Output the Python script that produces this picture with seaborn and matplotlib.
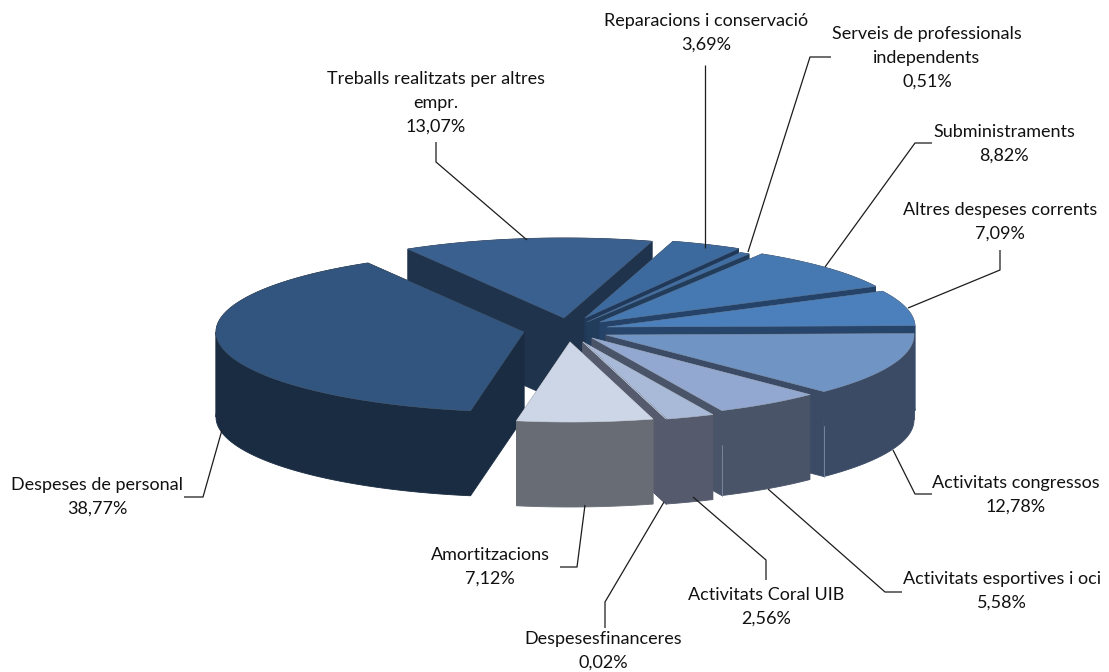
import numpy as np
import matplotlib
matplotlib.use("Agg")
import matplotlib.pyplot as plt
import seaborn as sns

# ---- data ----
categories = ["Despeses de personal", "Treballs realitzats per altres\nempr.",
              "Reparacions i conservació", "Serveis de professionals\nindependents",
              "Subministraments", "Altres despeses corrents", "Activitats congressos",
              "Activitats esportives i oci", "Activitats Coral UIB",
              "Despesesfinanceres", "Amortitzacions"]
values = [38.77, 13.07, 3.69, 0.51, 8.82, 7.09, 12.78, 5.58, 2.56, 0.02, 7.12]

# ---- styles / layout ----
top_colors = ["#31557F", "#3A6090", "#3D6A9E", "#3F6EA5", "#4679B2", "#4C80BC",
              "#7094C3", "#93A8D0", "#A9BAD8", "#A9BAD8", "#CCD6E7"]
side_colors = ["#1A2C42", "#1F334D", "#20395A", "#223C5C", "#254268", "#27456B",
               "#3B4B66", "#4A5468", "#555B6D", "#555B6D", "#686C75"]
apex = [(524, 332), (564, 318), (585, 318), (587, 322), (600, 322), (607, 327),
        (606, 335), (592, 338), (583, 342), (583, 342), (570, 342)]
label_pos = [(97, 497), (436, 103), (706, 33), (927, 58), (1004, 144), (1000, 222),
             (1016, 495), (1002, 591), (766, 607), (603, 651), (490, 567)]
leaders = [[(184, 497), (203, 497), (222, 430)],
           [(436, 142), (436, 162), (527, 240)],
           [(705, 65), (705, 248)],
           [(831, 57), (810, 57), (748, 252)],
           [(932, 143), (915, 143), (825, 267)],
           [(1000, 250), (1000, 270), (908, 308)],
           [(932, 494), (915, 494), (893, 450)],
           [(902, 592), (885, 592), (768, 489)],
           [(766, 580), (766, 560), (693, 497)],
           [(605, 628), (605, 602), (664, 502)],
           [(560, 567), (577, 567), (585, 505)]]
draw_order = [1, 0, 2, 3, 4, 5, 6, 7, 8, 9, 10]
seam_slices = {6, 7, 8}
START, RX, RY, DEPTH = 190.0, 308.0, 80.0, 85.0

sns.set_theme(style="white")
plt.rcParams["font.family"] = ["Lato", "DejaVu Sans"]

fig = plt.figure(figsize=(11.09, 6.72), dpi=100, facecolor="white")
ax = fig.add_axes([0, 0, 1, 1])
ax.set_xlim(0, 1109)
ax.set_ylim(672, 0)
ax.axis("off")

vals = np.array(values, dtype=float)
edges = START + np.concatenate([[0], np.cumsum(vals) / vals.sum() * 360])


def arc(i, a=None, b=None, n=120):
    a = edges[i] if a is None else a
    b = edges[i + 1] if b is None else b
    t = np.radians(np.linspace(a, b, n))
    return apex[i][0] + RX * np.sin(t), apex[i][1] - RY * np.cos(t)


for i in draw_order:
    ax_, ay_ = apex[i]
    x, y = arc(i)
    side, top = side_colors[i], top_colors[i]
    kw = dict(facecolor=side, edgecolor=side, lw=0.6, zorder=2)
    # radial walls
    for xe, ye in ((x[0], y[0]), (x[-1], y[-1])):
        ax.fill([ax_, xe, xe, ax_], [ay_, ye, ye + DEPTH, ay_ + DEPTH], **kw)
    # outer wall, split where the arc turns back in x so each polygon stays simple
    cuts = [c for c in (90.0, 270.0, 450.0) if edges[i] < c < edges[i + 1]]
    bounds = [edges[i]] + cuts + [edges[i + 1]]
    for a, b in zip(bounds[:-1], bounds[1:]):
        xs, ys = arc(i, a, b)
        ax.fill(np.r_[xs, xs[::-1]], np.r_[ys, (ys + DEPTH)[::-1]], **kw)
    if i in seam_slices:
        ax.plot([x[-1], x[-1]], [y[-1] + DEPTH * 0.4, y[-1] + DEPTH], color="#7F8CA3",
                lw=0.6, zorder=2)
    # top face
    ax.fill(np.r_[ax_, x], np.r_[ay_, y], facecolor=top, edgecolor=sns.desaturate(top, 0.6),
            lw=0.4, zorder=2)

for pts in leaders:
    px, py = zip(*pts)
    ax.plot(px, py, color="#1c1c1c", lw=0.9, zorder=3, solid_capstyle="butt")

for name, val, (lx, ly) in zip(categories, values, label_pos):
    pct = f"{val:.2f}".replace(".", ",") + "%"
    ax.text(lx, ly, f"{name}\n{pct}", ha="center", va="center",
            fontsize=13.0, color="#111111", linespacing=1.62, zorder=4)

fig.savefig("out.png", dpi=100)
